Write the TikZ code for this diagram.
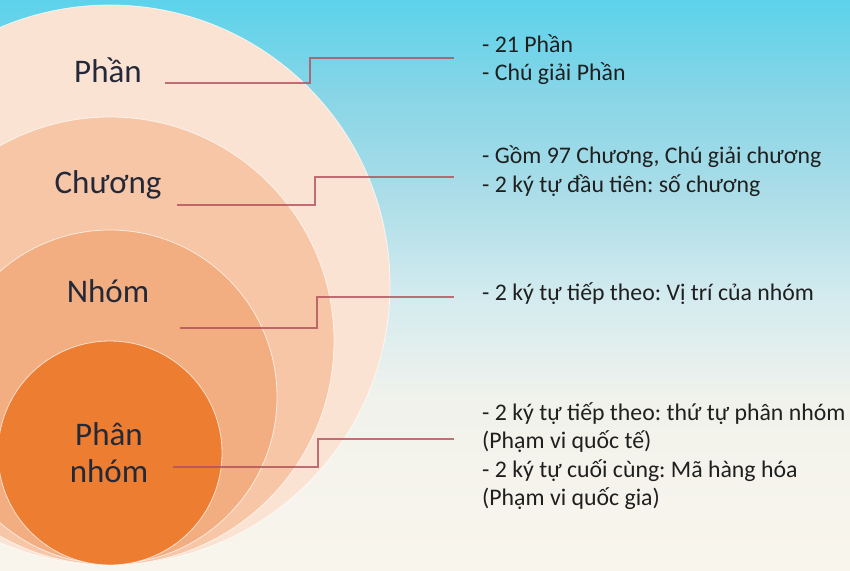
\documentclass[tikz,border=0pt]{standalone}
\usepackage{fontspec}
\setmainfont{Carlito}
\usetikzlibrary{positioning}
\frenchspacing

\definecolor{ringA}{HTML}{FBE3D4}
\definecolor{ringB}{HTML}{F6C6A6}
\definecolor{ringC}{HTML}{F2AD80}
\definecolor{ringD}{HTML}{ED7D31}
\definecolor{linkred}{HTML}{B0505A}
\definecolor{labelink}{HTML}{232938}
\definecolor{cream}{HTML}{F9F5EC}
\definecolor{palecream}{HTML}{F1F2EC}
\definecolor{paleblue}{HTML}{D3EBEF}
\definecolor{midblue}{HTML}{ABDDE8}
\definecolor{skyblue}{HTML}{86D5E7}
\definecolor{topcyan}{HTML}{5CD3EB}

\pgfdeclareverticalshading{skywash}{100bp}{color(0bp)=(cream); color(25bp)=(cream);
  color(40bp)=(palecream); color(49bp)=(paleblue); color(58bp)=(midblue);
  color(67bp)=(skyblue); color(75bp)=(topcyan); color(100bp)=(topcyan)}

\tikzset{
  ring/.style={draw=white, draw opacity=0.7, line width=0.8pt},
  levelname/.style={font=\fontsize{33}{35}\selectfont, text=labelink, inner sep=0pt, anchor=base},
  desc/.style={font=\fontsize{23.8}{28}\selectfont, text=black!88, inner sep=0pt, anchor=base west},
  link/.style={draw=linkred, draw opacity=0.8, line width=1.5pt}
}

\begin{document}
\begin{tikzpicture}[x=1pt,y=-1pt]
\useasboundingbox (0,0) rectangle (850,570);
\shade[shading=skywash] (0,0) rectangle (850,570);

% nested circles
\begin{scope}
\clip (0,0) rectangle (850,570);
\fill[ringA, ring] (110,285) circle[radius=280];
\fill[ringB, ring] (110,341) circle[radius=224];
\fill[ringC, ring] (110,397) circle[radius=167];
\fill[ringD, ring] (110,453) circle[radius=112];
\end{scope}

% level names
\node[levelname] (phan)   at (108,82)  {Phần};
\node[levelname] (chuong) at (108,193) {Chương};
\node[levelname] (nhom)   at (108,302) {Nhóm};
\node[levelname] (pn1)    at (109,445) {Phân};
\node[levelname] (pn2)    at (109,482) {nhóm};

% descriptions
\node[desc] (tPh1) at (482,52)  {- 21 Phần};
\node[desc] (tPh2) at (482,80)  {- Chú giải Phần};
\node[desc] (tCh1) at (482,163) {- Gồm 97 Chương, Chú giải chương};
\node[desc] (tCh2) at (482,192) {- 2 ký tự đầu tiên: số chương};
\node[desc] (tNh1) at (482,300) {- 2 ký tự tiếp theo: Vị trí của nhóm};
\node[desc] (tPn1) at (482,420) {- 2 ký tự tiếp theo: thứ tự phân nhóm};
\node[desc] (tPn2) at (482,448) {(Phạm vi quốc tế)};
\node[desc] (tPn3) at (482,477) {- 2 ký tự cuối cùng: Mã hàng hóa};
\node[desc] (tPn4) at (482,505) {(Phạm vi quốc gia)};

% connectors
\coordinate (phS) at (165,83);  \coordinate (phE) at (454,58);
\coordinate (chS) at (177,205); \coordinate (chE) at (454,177);
\coordinate (nhS) at (180,328); \coordinate (nhE) at (454,297);
\coordinate (pnS) at (173,467); \coordinate (pnE) at (454,439);
\draw[link] (phS) -- ++(145,0) |- (phE);
\draw[link] (chS) -- ++(138,0) |- (chE);
\draw[link] (nhS) -- ++(137,0) |- (nhE);
\draw[link] (pnS) -- ++(145,0) |- (pnE);
\end{tikzpicture}
\end{document}
